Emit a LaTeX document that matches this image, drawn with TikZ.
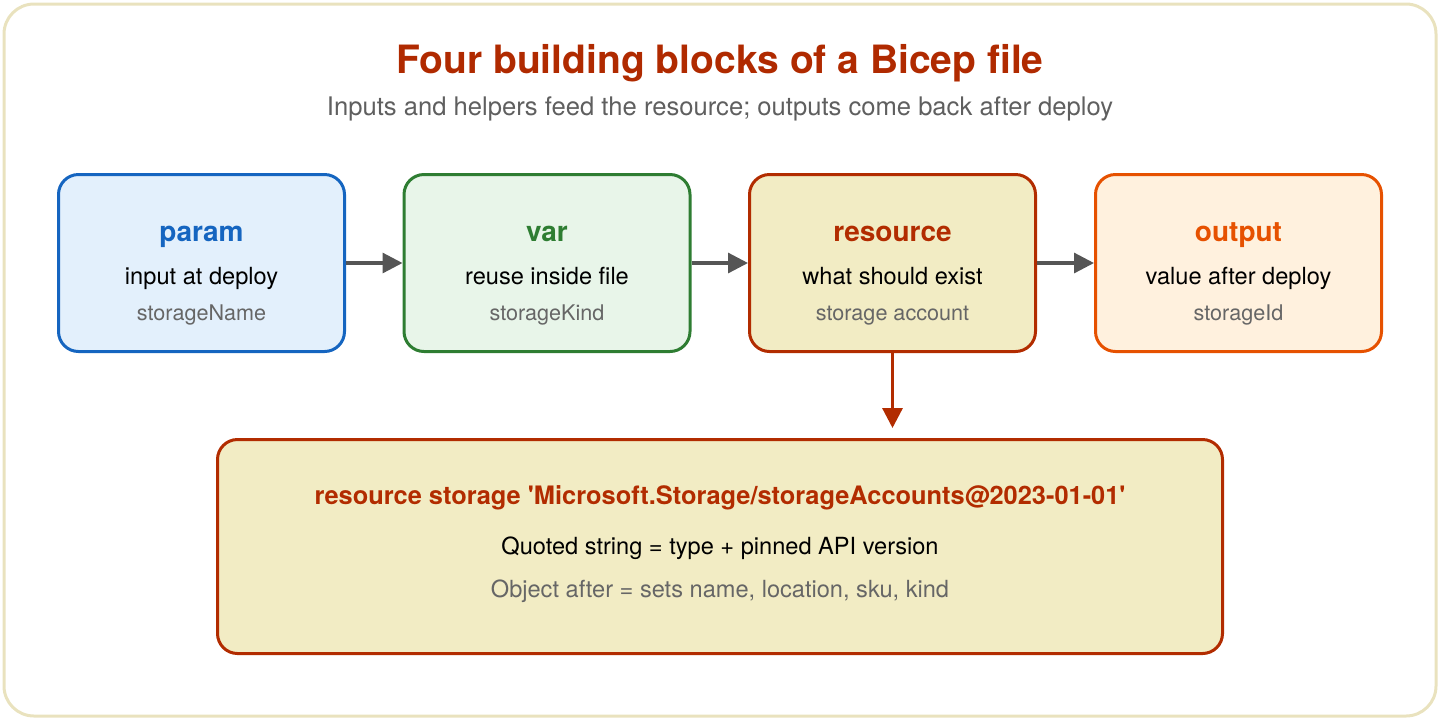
\documentclass[tikz,border=0pt]{standalone}
\usepackage{fontspec}
\setmainfont{TeX Gyre Heros}
\usetikzlibrary{arrows.meta}
\definecolor{framec}{HTML}{E9E2BE}
\definecolor{titlec}{HTML}{B02A00}
\definecolor{subc}{HTML}{5F5F5F}
\definecolor{notec}{HTML}{666666}
\definecolor{arrowc}{HTML}{555555}
\definecolor{paramc}{HTML}{1565C0}
\definecolor{paramf}{HTML}{E3F0FC}
\definecolor{varc}{HTML}{2E7D32}
\definecolor{varf}{HTML}{E8F5E9}
\definecolor{resc}{HTML}{B22C00}
\definecolor{resf}{HTML}{F2ECC4}
\definecolor{outc}{HTML}{E65100}
\definecolor{outf}{HTML}{FFF1DE}
\tikzset{
  block/.style={draw, line width=1.5pt, rounded corners=10pt, minimum width=143pt, minimum height=88.5pt, inner sep=0pt},
  keyword/.style={font=\fontsize{14}{16}\selectfont\bfseries, anchor=base},
  role/.style={font=\fontsize{11.8}{14}\selectfont, anchor=base},
  example/.style={font=\fontsize{10.8}{13}\selectfont, text=notec, anchor=base},
  flow/.style={-{Triangle[length=10pt,width=10pt]}, line width=1.6pt, color=arrowc}
}
\begin{document}
\begin{tikzpicture}[x=0.5pt,y=-0.5pt]
  \useasboundingbox (0,0) rectangle (1440,720);
  %frame
  \draw[framec, line width=1.5pt, rounded corners=15pt] (4,4) rectangle (1436,716);
  %titles
  \node[font=\fontsize{19.5}{22}\selectfont\bfseries, text=titlec, anchor=base] (title) at (720,73) {Four building blocks of a Bicep file};
  \node[font=\fontsize{12.8}{15}\selectfont, text=subc, anchor=base] (subtitle) at (720,115) {Inputs and helpers feed the resource; outputs come back after deploy};
  %blocks
  \node[block, draw=paramc, fill=paramf] (param) at (201.5,263) {};
  \node[block, draw=varc, fill=varf] (var) at (547,263) {};
  \node[block, draw=resc, fill=resf] (res) at (892.5,263) {};
  \node[block, draw=outc, fill=outf] (out) at (1238.5,263) {};
  \node[keyword, text=paramc] (paramkey) at (201.5,241) {param};
  \node[role] (paramrole) at (201.5,284) {input at deploy};
  \node[example] (paramex) at (201.5,320) {storageName};
  \node[keyword, text=varc] (varkey) at (547,241) {var};
  \node[role] (varrole) at (547,284) {reuse inside file};
  \node[example] (varex) at (547,320) {storageKind};
  \node[keyword, text=resc] (reskey) at (892.5,241) {resource};
  \node[role] (resrole) at (892.5,284) {what should exist};
  \node[example] (resex) at (892.5,320) {storage account};
  \node[keyword, text=outc] (outkey) at (1238.5,241) {output};
  \node[role] (outrole) at (1238.5,284) {value after deploy};
  \node[example] (outex) at (1238.5,320) {storageId};
  %detail
  \node[block, draw=resc, fill=resf, minimum width=502.5pt, minimum height=107pt] (detail) at (720,546.5) {};
  \node[font=\fontsize{12.7}{15}\selectfont\bfseries, text=resc, anchor=base] (decl) at (720,504) {resource storage \textquotesingle Microsoft.Storage/storageAccounts@2023-01-01\textquotesingle};
  \node[role] (declrole) at (720,554) {Quoted string = type + pinned API version};
  \node[role, text=notec] (declex) at (720,597) {Object after = sets name, location, sku, kind};
  %arrows
  \draw[flow] (param) -- (var);
  \draw[flow] (var) -- (res);
  \draw[flow] (res) -- (out);
  \draw[flow, color=resc, shorten >=5pt] (res.south) -- (res.south |- detail.north);
\end{tikzpicture}
\end{document}
